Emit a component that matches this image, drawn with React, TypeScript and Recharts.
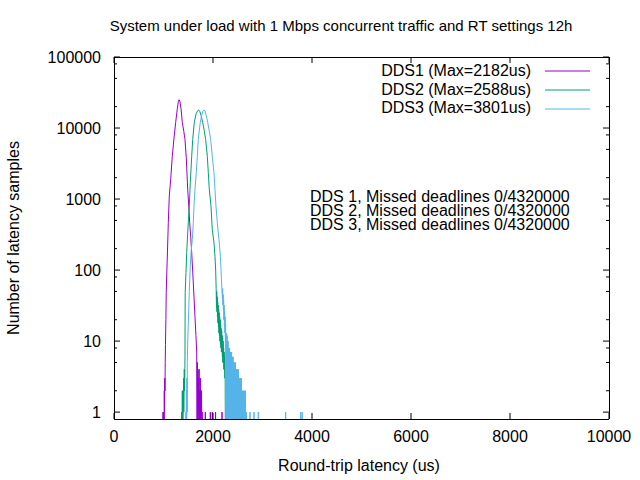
import React from "react";
import { Line, LineChart, XAxis, YAxis } from "recharts";

// histogram bins: [round-trip latency in us, number of samples]
type Bin = [number, number];

const dds1Bins: Bin[] = [
  [985, 0], [990, 1], [995, 0], [1000, 1], [1004, 0], [1008, 1], [1012, 0], [1016, 2], [1020, 1],
  [1025, 3], [1030, 2], [1035, 5], [1040, 9], [1048, 20], [1055, 48], [1068, 100], [1080, 180],
  [1097, 466], [1117, 1100], [1145, 1900], [1178, 4000], [1210, 7000], [1246, 12000], [1280, 19000],
  [1300, 23500], [1313, 25000], [1330, 24000], [1355, 18500], [1380, 12000], [1410, 9000],
  [1434, 6900], [1460, 3800], [1489, 1370], [1510, 800], [1529, 470], [1550, 290], [1570, 176],
  [1602, 66], [1636, 22], [1655, 12], [1671, 7], [1678, 0], [1684, 5], [1690, 0], [1696, 4],
  [1702, 1], [1708, 3], [1714, 0], [1720, 4], [1726, 0], [1732, 2], [1738, 0], [1744, 3], [1750, 0],
  [1756, 2], [1762, 0], [1768, 2], [1774, 0], [1780, 1], [1786, 0],
  [1843, 0], [1845, 1], [1847, 0], [1944, 0], [1946, 1], [1948, 0], [1984, 0], [1986, 1], [1988, 0],
  [2050, 0], [2052, 1], [2054, 0], [2180, 0], [2182, 1], [2184, 0],
];

const dds2Bins: Bin[] = [
  [1360, 0], [1364, 1], [1368, 0], [1372, 1], [1376, 0], [1380, 2], [1384, 0], [1388, 1], [1392, 0],
  [1396, 2], [1400, 1], [1405, 3], [1410, 1], [1415, 2], [1420, 4], [1425, 2], [1430, 3], [1434, 6],
  [1438, 48], [1447, 70], [1454, 92], [1469, 176], [1489, 334], [1505, 520], [1521, 794],
  [1541, 1700], [1570, 4000], [1590, 6900], [1622, 12000], [1660, 16000], [1690, 17500],
  [1711, 18000], [1735, 17000], [1760, 15000], [1792, 12000], [1825, 9000], [1852, 6900],
  [1885, 4000], [1905, 2350], [1925, 1370], [1959, 794], [1986, 370], [2020, 242], [2040, 156],
  [2054, 100], [2064, 55], [2070, 30], [2075, 50], [2080, 26], [2085, 42], [2090, 22], [2095, 36],
  [2100, 18], [2105, 32], [2110, 16], [2115, 28], [2120, 13], [2125, 25], [2130, 12], [2135, 22],
  [2140, 10], [2145, 20], [2150, 9], [2155, 17], [2160, 8], [2165, 15], [2170, 7], [2175, 14],
  [2180, 7], [2185, 12], [2190, 6], [2195, 11], [2200, 5], [2205, 10], [2210, 5], [2215, 8],
  [2220, 4], [2225, 7], [2230, 4], [2235, 6], [2240, 3], [2245, 4], [2250, 0], [2254, 1], [2258, 0],
  [2488, 0], [2490, 1], [2492, 0], [2586, 0], [2588, 1], [2590, 0],
];

const dds3Bins: Bin[] = [
  [1450, 0], [1454, 1], [1458, 0], [1462, 2], [1466, 0], [1470, 1], [1474, 3], [1478, 1], [1481, 5],
  [1490, 10], [1501, 18], [1521, 50], [1540, 110], [1557, 180], [1582, 268], [1602, 466],
  [1616, 794], [1636, 1370], [1662, 2350], [1683, 4000], [1703, 6900], [1743, 12000], [1775, 15500],
  [1800, 17500], [1818, 18000], [1840, 17200], [1865, 15000], [1893, 12000], [1925, 9000],
  [1953, 6900], [1986, 4000], [2020, 2350], [2040, 1370], [2060, 794], [2087, 466], [2121, 268],
  [2150, 156], [2165, 91], [2180, 53], [2190, 40], [2195, 55], [2200, 32], [2205, 45], [2210, 28],
  [2215, 38], [2220, 20], [2225, 32], [2230, 16], [2235, 26], [2240, 13], [2245, 22], [2250, 11],
  [2255, 17], [2260, 0], [2265, 13], [2270, 0], [2275, 10], [2280, 0], [2285, 12], [2290, 0],
  [2295, 9], [2300, 0], [2305, 10], [2310, 0], [2315, 8], [2320, 0], [2325, 7], [2330, 0], [2335, 8],
  [2340, 0], [2345, 6], [2350, 0], [2355, 7], [2360, 0], [2365, 6], [2370, 0], [2375, 7], [2380, 0],
  [2385, 5], [2390, 0], [2395, 6], [2400, 0], [2405, 6], [2410, 0], [2415, 5], [2420, 0], [2425, 4],
  [2430, 0], [2435, 5], [2440, 0], [2445, 4], [2450, 0], [2455, 5], [2460, 0], [2465, 4], [2470, 0],
  [2475, 4], [2480, 0], [2485, 3], [2490, 0], [2495, 4], [2500, 0], [2505, 3], [2510, 0], [2515, 4],
  [2520, 0], [2525, 3], [2530, 0], [2535, 3], [2540, 0], [2545, 2], [2550, 0], [2555, 3], [2560, 0],
  [2565, 2], [2570, 0], [2575, 3], [2580, 0], [2585, 2], [2590, 0], [2595, 2], [2600, 0], [2605, 2],
  [2610, 0], [2615, 2], [2620, 0], [2625, 1], [2630, 0], [2635, 2], [2640, 0], [2645, 1], [2650, 0],
  [2655, 2], [2660, 0], [2665, 1], [2670, 0], [2675, 1], [2680, 0],
  [2745, 0], [2747, 1], [2749, 0], [2826, 0], [2828, 1], [2830, 0], [2913, 0], [2915, 1], [2917, 0],
  [3466, 0], [3468, 1], [3470, 0], [3769, 0], [3771, 1], [3773, 0], [3799, 0], [3801, 1], [3803, 0],
];

const seriesNames = ["DDS1", "DDS2", "DDS3"];
const seriesMaxLatency = [2182, 2588, 3801];
const seriesColors = ["#9400d3", "#009e73", "#56b4e9"];
const missedDeadlines = [0, 0, 0];
const totalSamples = 4320000;

const xTicks = [0, 2000, 4000, 6000, 8000, 10000];
const yTicks = [1, 10, 100, 1000, 10000, 100000];
const yMinorTicks = [
  2, 5, 8, 20, 50, 80, 200, 500, 800, 2000, 5000, 8000, 20000, 50000, 80000,
];

const title = "System under load with 1 Mbps concurrent traffic and RT settings 12h";
const xLabel = "Round-trip latency (us)";
const yLabel = "Number of latency samples";

// empty bins sit below the log axis and get clipped, like gnuplot does
const EMPTY_BIN = 0.5;

const allBins = [dds1Bins, dds2Bins, dds3Bins];
const series = allBins.map((bins, i) => ({
  name: seriesNames[i],
  color: seriesColors[i],
  data: bins.map(([latency, samples]) => ({
    latency,
    samples: samples > 0 ? samples : EMPTY_BIN,
  })),
}));

const yAllTicks = [...yTicks, ...yMinorTicks].sort((a, b) => a - b);
const X_DOMAIN: [number, number] = [0, 10000];
const Y_DOMAIN: [number, number] = [0.8, 100000];

const FONT = "'Liberation Sans', Arial, sans-serif";
const MAJOR = 6;
const MINOR = 3;

// gnuplot draws its tics inside the border
function LeftTick({ x, y, payload }: any) {
  const major = yTicks.includes(payload.value);
  return (
    <g>
      <line x1={x} x2={x + (major ? MAJOR : MINOR)} y1={y} y2={y} stroke="#000" />
      {major && (
        <text x={x - 13} y={y} dy="0.36em" textAnchor="end" fontSize={16} fontFamily={FONT} fill="#000">
          {payload.value}
        </text>
      )}
    </g>
  );
}

function RightTick({ x, y, payload }: any) {
  const major = yTicks.includes(payload.value);
  return <line x1={x} x2={x - (major ? MAJOR : MINOR)} y1={y} y2={y} stroke="#000" />;
}

function BottomTick({ x, y, payload }: any) {
  return (
    <g>
      <line x1={x} x2={x} y1={y} y2={y - MAJOR} stroke="#000" />
      <text x={x} y={y + 23} textAnchor="middle" fontSize={16} fontFamily={FONT} fill="#000">
        {payload.value}
      </text>
    </g>
  );
}

function TopTick({ x, y }: any) {
  return <line x1={x} x2={x} y1={y} y2={y + MAJOR} stroke="#000" />;
}

const axisLine = { stroke: "#000", shapeRendering: "crispEdges" };

export default function App() {
  return (
    <div style={{ position: "absolute", left: 0, top: 0, width: 640, height: 480, background: "#fff", fontFamily: FONT }}>
      <LineChart width={640} height={480} margin={{ top: 56, right: 30, bottom: 60, left: 113 }}>
        <XAxis
          xAxisId="bottom"
          type="number"
          dataKey="latency"
          domain={X_DOMAIN}
          ticks={xTicks}
          interval={0}
          allowDataOverflow
          height={1}
          tickSize={0}
          tickMargin={0}
          tickLine={false}
          axisLine={axisLine}
          tick={(p: any) => <BottomTick {...p} />}
        />
        <XAxis
          xAxisId="top"
          orientation="top"
          type="number"
          dataKey="latency"
          domain={X_DOMAIN}
          ticks={xTicks}
          interval={0}
          allowDataOverflow
          height={1}
          tickSize={0}
          tickMargin={0}
          tickLine={false}
          axisLine={axisLine}
          tick={(p: any) => <TopTick {...p} />}
        />
        <YAxis
          yAxisId="left"
          type="number"
          scale="log"
          domain={Y_DOMAIN}
          ticks={yAllTicks}
          interval={0}
          allowDataOverflow
          width={1}
          tickSize={0}
          tickMargin={0}
          tickLine={false}
          axisLine={axisLine}
          tick={(p: any) => <LeftTick {...p} />}
        />
        <YAxis
          yAxisId="right"
          orientation="right"
          type="number"
          scale="log"
          domain={Y_DOMAIN}
          ticks={yAllTicks}
          interval={0}
          allowDataOverflow
          width={1}
          tickSize={0}
          tickMargin={0}
          tickLine={false}
          axisLine={axisLine}
          tick={(p: any) => <RightTick {...p} />}
        />
        {series.map((s) => (
          <Line
            key={s.name}
            xAxisId="bottom"
            yAxisId="left"
            data={s.data}
            dataKey="samples"
            name={s.name}
            type="linear"
            stroke={s.color}
            strokeWidth={1}
            dot={false}
            activeDot={false}
            isAnimationActive={false}
          />
        ))}
      </LineChart>

      <svg
        width={640}
        height={480}
        style={{ position: "absolute", left: 0, top: 0, pointerEvents: "none" }}
        fontFamily={FONT}
        fontSize={16}
        fill="#000"
      >
        <text x={341} y={31} textAnchor="middle" fontSize={15}>{title}</text>
        <text x={359} y={471} textAnchor="middle">{xLabel}</text>
        <text transform="translate(19 238) rotate(-90)" textAnchor="middle">{yLabel}</text>

        {series.map((s, i) => (
          <g key={s.name}>
            <text x={531} y={76 + i * 18.5} textAnchor="end">
              {`${s.name} (Max=${seriesMaxLatency[i]}us)`}
            </text>
            <line x1={545} x2={590} y1={71 + i * 19} y2={71 + i * 19} stroke={s.color} strokeWidth={1} />
          </g>
        ))}

        {missedDeadlines.map((missed, i) => (
          <text key={i} x={310} y={202 + i * 14.2}>
            {`DDS ${i + 1}, Missed deadlines ${missed}/${totalSamples}`}
          </text>
        ))}
      </svg>
    </div>
  );
}
